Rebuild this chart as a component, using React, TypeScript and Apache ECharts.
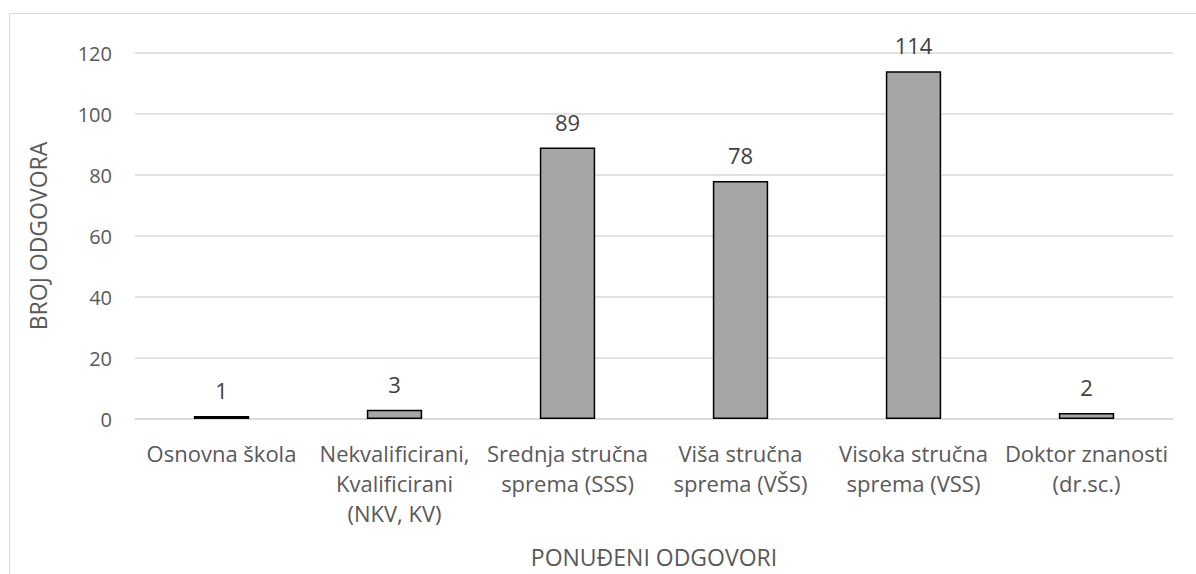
import React, { useEffect, useRef } from "react";
import * as echarts from "echarts";

const categories = [
  "Osnovna škola",
  "Nekvalificirani,\nKvalificirani\n(NKV, KV)",
  "Srednja stručna\nsprema (SSS)",
  "Viša stručna\nsprema (VŠS)",
  "Visoka stručna\nsprema (VSS)",
  "Doktor znanosti\n(dr.sc.)",
];
const values = [1, 3, 89, 78, 114, 2];
const yTitle = "BROJ ODGOVORA";
const xTitle = "PONUĐENI ODGOVORI";

const FONT = "'Open Sans', sans-serif";
const TXT = "#595959";

export default function App() {
  const ref = useRef<HTMLDivElement>(null);
  useEffect(() => {
    if (!ref.current) return;
    const chart = echarts.init(ref.current, undefined, { renderer: "svg" });
    chart.setOption({
      animation: false,
      backgroundColor: "#ffffff",
      textStyle: { fontFamily: FONT },
      grid: {
        left: 135,
        right: 23,
        top: 53,
        bottom: 155,
        containLabel: false,
        outerBoundsMode: "none",
      },
      graphic: [
        {
          type: "rect",
          shape: { x: 9.5, y: 13.5, width: 1300, height: 700 },
          style: { fill: "none", stroke: "#d9d9d9", lineWidth: 1 },
          silent: true,
        },
      ],
      xAxis: {
        type: "category",
        data: categories,
        name: xTitle,
        nameLocation: "middle",
        nameGap: 126,
        nameTextStyle: { color: TXT, fontSize: 23, fontFamily: FONT },
        axisLine: { lineStyle: { color: "#d9d9d9", width: 1.5 } },
        axisTick: { show: false },
        axisLabel: {
          interval: 0,
          color: TXT,
          fontSize: 22,
          lineHeight: 30,
          margin: 19,
          fontFamily: FONT,
        },
      },
      yAxis: {
        type: "value",
        min: 0,
        max: 120,
        interval: 20,
        name: yTitle,
        nameLocation: "middle",
        nameGap: 86,
        nameTextStyle: { color: TXT, fontSize: 23, fontFamily: FONT },
        axisLine: { show: false },
        axisTick: { show: false },
        axisLabel: { color: TXT, fontSize: 20, margin: 23, fontFamily: FONT },
        splitLine: { lineStyle: { color: "#d9d9d9", width: 1.5 } },
      },
      series: [
        {
          type: "bar",
          data: values,
          barWidth: "32%",
          itemStyle: { color: "#a6a6a6", borderColor: "#000000", borderWidth: 1.5 },
          label: {
            show: true,
            position: "top",
            distance: 15,
            color: "#404040",
            fontSize: 22,
            fontFamily: FONT,
          },
        },
      ],
    });
    return () => chart.dispose();
  }, []);
  return (
    <div
      ref={ref}
      style={{ position: "fixed", left: 0, top: 0, width: 1196, height: 574 }}
    />
  );
}
